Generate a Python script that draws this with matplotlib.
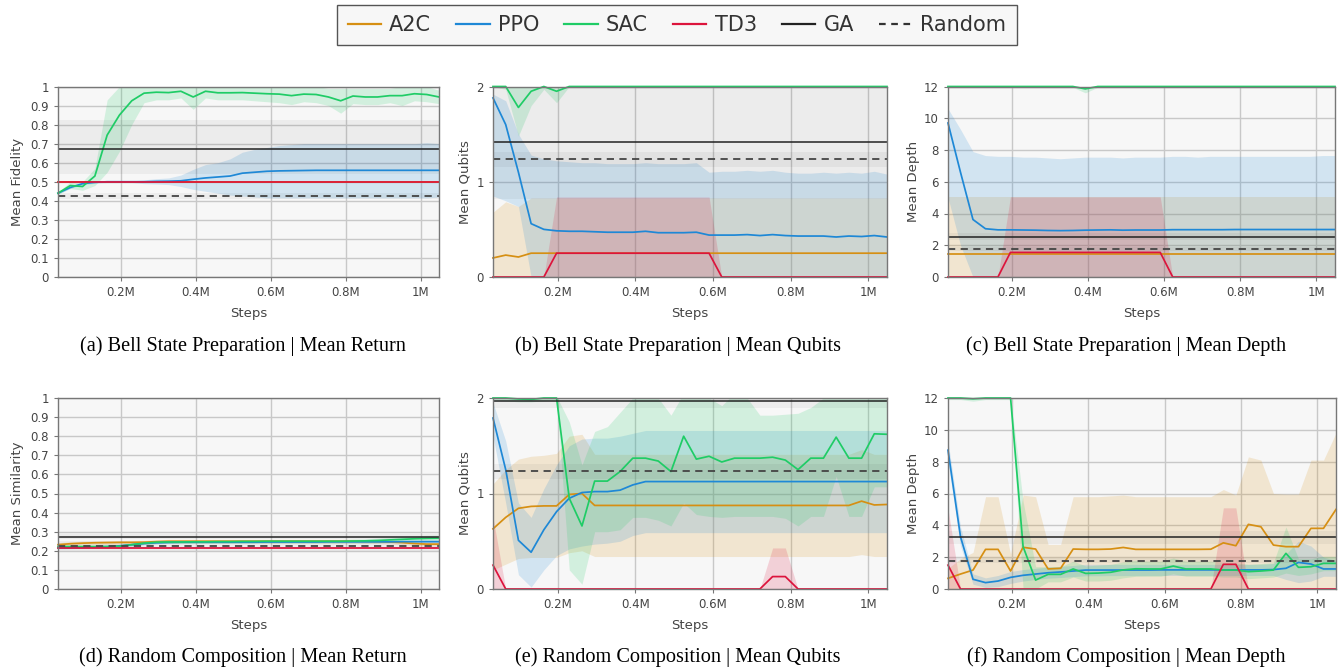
import numpy as np
import matplotlib
matplotlib.use('Agg')
import matplotlib.pyplot as plt
from matplotlib.lines import Line2D

# evaluation steps (32 checkpoints, 2^15 apart)
steps = np.arange(1, 33) * 32768

# ---------------- (a) Bell State Preparation | Mean Return ----------------
a_a2c = [0.50, 0.50, 0.50, 0.50, 0.50, 0.50, 0.50, 0.50, 0.50, 0.50, 0.50, 0.50, 0.50, 0.50, 0.50, 0.50,
         0.50, 0.50, 0.50, 0.50, 0.50, 0.50, 0.50, 0.50, 0.50, 0.50, 0.50, 0.50, 0.50, 0.50, 0.50, 0.50]
a_a2c_lo = a_a2c
a_a2c_hi = a_a2c
a_ppo = [0.44, 0.47, 0.49, 0.497, 0.50, 0.50, 0.50, 0.50, 0.502, 0.503, 0.505, 0.513, 0.52, 0.525, 0.53, 0.545,
         0.55, 0.555, 0.557, 0.558, 0.559, 0.56, 0.56, 0.56, 0.56, 0.56, 0.56, 0.56, 0.56, 0.56, 0.56, 0.56]
a_ppo_lo = [0.435, 0.465, 0.485, 0.492, 0.495, 0.495, 0.495, 0.49, 0.488, 0.485, 0.475, 0.46, 0.45, 0.44, 0.43, 0.425,
            0.42, 0.415, 0.415, 0.415, 0.415, 0.415, 0.415, 0.415, 0.415, 0.415, 0.415, 0.415, 0.415, 0.415, 0.415, 0.42]
a_ppo_hi = [0.445, 0.475, 0.495, 0.502, 0.505, 0.505, 0.505, 0.51, 0.516, 0.52, 0.535, 0.565, 0.59, 0.60, 0.62, 0.655,
            0.67, 0.68, 0.69, 0.695, 0.70, 0.70, 0.70, 0.70, 0.70, 0.70, 0.70, 0.70, 0.70, 0.70, 0.705, 0.70]
a_sac = [0.44, 0.48, 0.475, 0.53, 0.745, 0.85, 0.925, 0.965, 0.97, 0.968, 0.975, 0.945, 0.975, 0.967, 0.967, 0.968,
         0.965, 0.962, 0.96, 0.952, 0.96, 0.958, 0.945, 0.925, 0.95, 0.945, 0.945, 0.952, 0.952, 0.962, 0.958, 0.945]
a_sac_lo = [0.435, 0.465, 0.455, 0.48, 0.55, 0.66, 0.80, 0.915, 0.93, 0.93, 0.94, 0.88, 0.94, 0.93, 0.93, 0.93,
            0.925, 0.92, 0.915, 0.905, 0.92, 0.915, 0.90, 0.86, 0.91, 0.905, 0.905, 0.915, 0.90, 0.925, 0.92, 0.91]
a_sac_hi = [0.445, 0.50, 0.50, 0.57, 0.93, 1.0, 1.0, 1.0, 1.0, 1.0, 1.0, 1.0, 1.0, 1.0, 1.0, 1.0,
            1.0, 1.0, 1.0, 1.0, 1.0, 1.0, 0.99, 0.99, 0.99, 0.99, 0.99, 0.99, 1.0, 1.0, 1.0, 0.98]
a_td3 = a_a2c
a_td3_lo = a_a2c
a_td3_hi = a_a2c
a_ga = [0.672, 0.54, 0.825]       # value, low, high
a_rand = [0.425, 0.407, 0.443]

# ---------------- (b) Bell State Preparation | Mean Qubits ----------------
b_a2c = [0.20, 0.23, 0.21, 0.25, 0.25, 0.25, 0.25, 0.25, 0.25, 0.25, 0.25, 0.25, 0.25, 0.25, 0.25, 0.25,
         0.25, 0.25, 0.25, 0.25, 0.25, 0.25, 0.25, 0.25, 0.25, 0.25, 0.25, 0.25, 0.25, 0.25, 0.25, 0.25]
b_a2c_lo = [0, 0, 0, 0, 0, 0, 0, 0, 0, 0, 0, 0, 0, 0, 0, 0,
            0, 0, 0, 0, 0, 0, 0, 0, 0, 0, 0, 0, 0, 0, 0, 0]
b_a2c_hi = [0.68, 0.79, 0.74, 0.83, 0.83, 0.83, 0.83, 0.83, 0.83, 0.83, 0.83, 0.83, 0.83, 0.83, 0.83, 0.83,
            0.83, 0.83, 0.83, 0.83, 0.83, 0.83, 0.83, 0.83, 0.83, 0.83, 0.83, 0.83, 0.83, 0.83, 0.83, 0.83]
b_ppo = [1.88, 1.60, 1.10, 0.56, 0.50, 0.485, 0.48, 0.48, 0.475, 0.47, 0.47, 0.47, 0.48, 0.465, 0.465, 0.465,
         0.47, 0.44, 0.44, 0.44, 0.445, 0.435, 0.445, 0.435, 0.43, 0.43, 0.43, 0.42, 0.43, 0.425, 0.435, 0.42]
b_ppo_lo = [0.85, 0.80, 0.74, 0, 0, 0, 0, 0, 0, 0, 0, 0, 0, 0, 0, 0,
            0, 0, 0, 0, 0, 0, 0, 0, 0, 0, 0, 0, 0, 0, 0, 0]
b_ppo_hi = [1.92, 1.85, 1.50, 1.28, 1.24, 1.22, 1.21, 1.20, 1.20, 1.19, 1.19, 1.19, 1.20, 1.19, 1.19, 1.19,
            1.20, 1.10, 1.11, 1.11, 1.12, 1.11, 1.12, 1.10, 1.09, 1.09, 1.10, 1.09, 1.10, 1.09, 1.11, 1.08]
b_sac = [2.0, 2.0, 1.78, 1.95, 2.0, 1.95, 2.0, 2.0, 2.0, 2.0, 2.0, 2.0, 2.0, 2.0, 2.0, 2.0,
         2.0, 2.0, 2.0, 2.0, 2.0, 2.0, 2.0, 2.0, 2.0, 2.0, 2.0, 2.0, 2.0, 2.0, 2.0, 2.0]
b_sac_lo = [2.0, 1.97, 1.48, 1.80, 1.97, 1.83, 2.0, 2.0, 2.0, 2.0, 2.0, 2.0, 2.0, 2.0, 2.0, 2.0,
            2.0, 2.0, 2.0, 2.0, 2.0, 2.0, 2.0, 2.0, 2.0, 2.0, 2.0, 2.0, 2.0, 2.0, 2.0, 2.0]
b_sac_hi = [2.0, 2.0, 2.0, 2.0, 2.0, 2.0, 2.0, 2.0, 2.0, 2.0, 2.0, 2.0, 2.0, 2.0, 2.0, 2.0,
            2.0, 2.0, 2.0, 2.0, 2.0, 2.0, 2.0, 2.0, 2.0, 2.0, 2.0, 2.0, 2.0, 2.0, 2.0, 2.0]
b_td3 = [0, 0, 0, 0, 0, 0.25, 0.25, 0.25, 0.25, 0.25, 0.25, 0.25, 0.25, 0.25, 0.25, 0.25,
         0.25, 0.25, 0, 0, 0, 0, 0, 0, 0, 0, 0, 0, 0, 0, 0, 0]
b_td3_lo = b_a2c_lo
b_td3_hi = [0, 0, 0, 0, 0, 0.84, 0.84, 0.84, 0.84, 0.84, 0.84, 0.84, 0.84, 0.84, 0.84, 0.84,
            0.84, 0.84, 0, 0, 0, 0, 0, 0, 0, 0, 0, 0, 0, 0, 0, 0]
b_ga = [1.42, 0.82, 2.02]
b_rand = [1.235, 1.155, 1.315]

# ---------------- (c) Bell State Preparation | Mean Depth ----------------
c_a2c = [1.48, 1.48, 1.48, 1.48, 1.48, 1.48, 1.48, 1.48, 1.48, 1.48, 1.48, 1.48, 1.48, 1.48, 1.48, 1.48,
         1.48, 1.48, 1.48, 1.48, 1.48, 1.48, 1.48, 1.48, 1.48, 1.48, 1.48, 1.48, 1.48, 1.48, 1.48, 1.48]
c_a2c_lo = b_a2c_lo
c_a2c_hi = [5.05, 5.05, 5.05, 5.05, 5.05, 5.05, 5.05, 5.05, 5.05, 5.05, 5.05, 5.05, 5.05, 5.05, 5.05, 5.05,
            5.05, 5.05, 5.05, 5.05, 5.05, 5.05, 5.05, 5.05, 5.05, 5.05, 5.05, 5.05, 5.05, 5.05, 5.05, 5.05]
c_ppo = [9.70, 6.60, 3.62, 3.04, 2.97, 2.97, 2.96, 2.95, 2.93, 2.92, 2.93, 2.95, 2.96, 2.97, 2.95, 2.96,
         2.96, 2.96, 2.98, 2.98, 2.98, 2.98, 2.98, 2.99, 2.99, 2.99, 2.99, 2.99, 2.99, 2.99, 2.99, 2.99]
c_ppo_lo = [5.0, 2.0, 0, 0, 0, 0, 0, 0, 0, 0, 0, 0, 0, 0, 0, 0,
            0, 0, 0, 0, 0, 0, 0, 0, 0, 0, 0, 0, 0, 0, 0, 0]
c_ppo_hi = [10.6, 9.3, 7.9, 7.65, 7.6, 7.6, 7.55, 7.55, 7.5, 7.45, 7.5, 7.55, 7.55, 7.55, 7.5, 7.55,
            7.55, 7.55, 7.6, 7.6, 7.55, 7.6, 7.6, 7.6, 7.6, 7.6, 7.6, 7.6, 7.6, 7.6, 7.65, 7.65]
c_sac = [12, 12, 12, 12, 12, 12, 12, 12, 12, 12, 12, 11.85, 12, 12, 12, 12,
         12, 12, 12, 12, 12, 12, 12, 12, 12, 12, 12, 12, 12, 12, 12, 12]
c_sac_lo = [12, 12, 12, 12, 12, 12, 12, 12, 12, 12, 11.95, 11.6, 11.95, 12, 12, 12,
            12, 12, 12, 12, 12, 12, 12, 12, 12, 12, 12, 12, 12, 12, 12, 12]
c_sac_hi = [12.1, 12.1, 12.1, 12.1, 12.1, 12.1, 12.1, 12.1, 12.1, 12.1, 12.1, 12.1, 12.1, 12.1, 12.1, 12.1,
            12.1, 12.1, 12.1, 12.1, 12.1, 12.1, 12.1, 12.1, 12.1, 12.1, 12.1, 12.1, 12.1, 12.1, 12.1, 12.1]
c_td3 = [0, 0, 0, 0, 0, 1.55, 1.55, 1.55, 1.55, 1.55, 1.55, 1.55, 1.55, 1.55, 1.55, 1.55,
         1.55, 1.55, 0, 0, 0, 0, 0, 0, 0, 0, 0, 0, 0, 0, 0, 0]
c_td3_lo = b_a2c_lo
c_td3_hi = [0, 0, 0, 0, 0, 5.05, 5.05, 5.05, 5.05, 5.05, 5.05, 5.05, 5.05, 5.05, 5.05, 5.05,
            5.05, 5.05, 0, 0, 0, 0, 0, 0, 0, 0, 0, 0, 0, 0, 0, 0]
c_ga = [2.55, 2.35, 2.75]
c_rand = [1.76, 1.66, 1.86]

# ---------------- (d) Random Composition | Mean Return ----------------
d_a2c = [0.232, 0.237, 0.240, 0.242, 0.243, 0.244, 0.244, 0.245, 0.248, 0.250, 0.250, 0.250, 0.250, 0.250, 0.250, 0.250,
         0.250, 0.250, 0.250, 0.250, 0.250, 0.250, 0.250, 0.250, 0.250, 0.249, 0.248, 0.246, 0.243, 0.238, 0.235, 0.235]
d_a2c_lo = [0.222, 0.227, 0.230, 0.232, 0.233, 0.234, 0.234, 0.235, 0.238, 0.240, 0.240, 0.240, 0.240, 0.240, 0.240, 0.240,
            0.240, 0.240, 0.240, 0.240, 0.240, 0.240, 0.240, 0.240, 0.240, 0.239, 0.238, 0.236, 0.233, 0.228, 0.225, 0.225]
d_a2c_hi = [0.242, 0.247, 0.250, 0.252, 0.253, 0.254, 0.254, 0.255, 0.258, 0.260, 0.260, 0.260, 0.260, 0.260, 0.260, 0.260,
            0.260, 0.260, 0.260, 0.260, 0.260, 0.260, 0.260, 0.260, 0.260, 0.259, 0.258, 0.256, 0.253, 0.248, 0.245, 0.245]
d_ppo = [0.215, 0.216, 0.218, 0.220, 0.222, 0.226, 0.232, 0.238, 0.242, 0.244, 0.245, 0.245, 0.245, 0.245, 0.245, 0.245,
         0.245, 0.246, 0.246, 0.246, 0.246, 0.246, 0.247, 0.247, 0.247, 0.247, 0.247, 0.247, 0.248, 0.248, 0.248, 0.248]
d_ppo_lo = [0.210, 0.211, 0.213, 0.215, 0.217, 0.221, 0.227, 0.233, 0.237, 0.239, 0.240, 0.240, 0.240, 0.240, 0.240, 0.240,
            0.240, 0.241, 0.241, 0.241, 0.241, 0.241, 0.242, 0.242, 0.242, 0.242, 0.242, 0.242, 0.243, 0.243, 0.243, 0.243]
d_ppo_hi = [0.220, 0.221, 0.223, 0.225, 0.227, 0.231, 0.237, 0.243, 0.247, 0.249, 0.250, 0.250, 0.250, 0.250, 0.250, 0.250,
            0.250, 0.251, 0.251, 0.251, 0.251, 0.251, 0.252, 0.252, 0.252, 0.252, 0.252, 0.252, 0.253, 0.253, 0.253, 0.253]
d_sac = [0.222, 0.222, 0.222, 0.222, 0.222, 0.224, 0.232, 0.240, 0.245, 0.246, 0.246, 0.247, 0.247, 0.248, 0.248, 0.249,
         0.249, 0.250, 0.250, 0.250, 0.250, 0.250, 0.250, 0.250, 0.251, 0.252, 0.254, 0.257, 0.260, 0.263, 0.265, 0.266]
d_sac_lo = [0.214, 0.214, 0.214, 0.214, 0.214, 0.216, 0.224, 0.232, 0.237, 0.238, 0.238, 0.239, 0.239, 0.240, 0.240, 0.241,
            0.241, 0.241, 0.241, 0.241, 0.241, 0.241, 0.241, 0.241, 0.241, 0.241, 0.242, 0.244, 0.246, 0.248, 0.249, 0.250]
d_sac_hi = [0.230, 0.230, 0.230, 0.230, 0.230, 0.232, 0.240, 0.248, 0.253, 0.254, 0.254, 0.255, 0.255, 0.256, 0.256, 0.257,
            0.257, 0.259, 0.259, 0.259, 0.259, 0.259, 0.259, 0.259, 0.261, 0.263, 0.266, 0.270, 0.274, 0.278, 0.281, 0.282]
d_td3 = [0.213, 0.213, 0.213, 0.213, 0.213, 0.213, 0.213, 0.213, 0.213, 0.213, 0.213, 0.213, 0.213, 0.213, 0.213, 0.213,
         0.213, 0.213, 0.213, 0.213, 0.213, 0.213, 0.213, 0.213, 0.213, 0.213, 0.213, 0.213, 0.213, 0.213, 0.213, 0.213]
d_td3_lo = [0.207, 0.207, 0.207, 0.207, 0.207, 0.207, 0.207, 0.207, 0.207, 0.207, 0.207, 0.207, 0.207, 0.207, 0.207, 0.207,
            0.207, 0.207, 0.207, 0.207, 0.207, 0.207, 0.207, 0.207, 0.207, 0.207, 0.207, 0.207, 0.207, 0.207, 0.207, 0.207]
d_td3_hi = [0.219, 0.219, 0.219, 0.219, 0.219, 0.219, 0.219, 0.219, 0.219, 0.219, 0.219, 0.219, 0.219, 0.219, 0.219, 0.219,
            0.219, 0.219, 0.219, 0.219, 0.219, 0.219, 0.219, 0.219, 0.219, 0.219, 0.219, 0.219, 0.219, 0.219, 0.219, 0.219]
d_ga = [0.274, 0.262, 0.290]
d_rand = [0.224, 0.198, 0.250]

# ---------------- (e) Random Composition | Mean Qubits ----------------
e_a2c = [0.63, 0.75, 0.845, 0.865, 0.87, 0.87, 0.99, 1.0, 0.875, 0.875, 0.875, 0.875, 0.875, 0.875, 0.875, 0.875,
         0.875, 0.875, 0.875, 0.875, 0.875, 0.875, 0.875, 0.875, 0.875, 0.875, 0.875, 0.875, 0.875, 0.92, 0.88, 0.885]
e_a2c_lo = [0.20, 0.26, 0.32, 0.33, 0.33, 0.33, 0.38, 0.40, 0.34, 0.34, 0.34, 0.34, 0.34, 0.34, 0.34, 0.34,
            0.34, 0.34, 0.34, 0.34, 0.34, 0.34, 0.34, 0.34, 0.34, 0.34, 0.34, 0.34, 0.34, 0.36, 0.34, 0.34]
e_a2c_hi = [1.10, 1.25, 1.36, 1.39, 1.40, 1.42, 1.60, 1.62, 1.41, 1.41, 1.41, 1.41, 1.41, 1.41, 1.41, 1.41,
            1.41, 1.41, 1.41, 1.41, 1.41, 1.41, 1.41, 1.41, 1.41, 1.41, 1.41, 1.41, 1.41, 1.46, 1.41, 1.41]
e_ppo = [1.79, 1.25, 0.51, 0.385, 0.62, 0.81, 0.95, 1.01, 1.02, 1.02, 1.035, 1.09, 1.125, 1.125, 1.125, 1.125,
         1.125, 1.125, 1.125, 1.125, 1.125, 1.125, 1.125, 1.125, 1.125, 1.125, 1.125, 1.125, 1.125, 1.125, 1.125, 1.125]
e_ppo_lo = [1.60, 0.90, 0.15, 0.02, 0.20, 0.35, 0.42, 0.45, 0.47, 0.48, 0.50, 0.56, 0.59, 0.59, 0.59, 0.59,
            0.59, 0.59, 0.59, 0.59, 0.59, 0.59, 0.59, 0.59, 0.59, 0.59, 0.59, 0.59, 0.59, 0.59, 0.59, 0.59]
e_ppo_hi = [1.95, 1.55, 0.90, 0.75, 1.05, 1.30, 1.50, 1.57, 1.58, 1.58, 1.60, 1.63, 1.66, 1.66, 1.66, 1.66,
            1.66, 1.66, 1.66, 1.66, 1.66, 1.66, 1.66, 1.66, 1.66, 1.66, 1.66, 1.66, 1.66, 1.66, 1.66, 1.66]
e_sac = [2.0, 2.0, 1.99, 1.985, 2.0, 2.0, 0.95, 0.66, 1.13, 1.13, 1.23, 1.37, 1.37, 1.34, 1.23, 1.60,
         1.36, 1.39, 1.33, 1.37, 1.37, 1.37, 1.38, 1.35, 1.25, 1.37, 1.37, 1.59, 1.37, 1.37, 1.625, 1.62]
e_sac_lo = [1.98, 1.97, 1.96, 1.96, 1.97, 1.98, 0.20, 0.05, 0.60, 0.60, 0.62, 0.75, 0.75, 0.72, 0.66, 0.90,
            0.78, 0.76, 0.75, 0.76, 0.76, 0.76, 0.76, 0.74, 0.66, 0.76, 0.76, 1.18, 0.76, 0.76, 1.07, 1.07]
e_sac_hi = [2.02, 2.02, 2.02, 2.02, 2.02, 2.02, 1.75, 1.30, 1.65, 1.70, 1.85, 2.00, 2.05, 2.00, 1.82, 2.05,
            2.05, 2.00, 1.92, 2.05, 2.00, 1.82, 1.82, 1.83, 1.84, 1.90, 2.00, 2.05, 2.05, 2.05, 2.10, 2.10]
e_td3 = [0.25, 0, 0, 0, 0, 0, 0, 0, 0, 0, 0, 0, 0, 0, 0, 0,
         0, 0, 0, 0, 0, 0, 0.13, 0.13, 0, 0, 0, 0, 0, 0, 0, 0]
e_td3_lo = b_a2c_lo
e_td3_hi = [0.75, 0, 0, 0, 0, 0, 0, 0, 0, 0, 0, 0, 0, 0, 0, 0,
            0, 0, 0, 0, 0, 0, 0.43, 0.43, 0, 0, 0, 0, 0, 0, 0, 0]
e_ga = [1.965, 1.90, 2.03]
e_rand = [1.233, 1.15, 1.31]

# ---------------- (f) Random Composition | Mean Depth ----------------
f_a2c = [0.67, 0.94, 1.19, 2.49, 2.49, 1.13, 2.62, 2.51, 1.26, 1.30, 2.51, 2.49, 2.49, 2.51, 2.61, 2.49,
         2.49, 2.49, 2.49, 2.49, 2.49, 2.50, 2.90, 2.72, 4.06, 3.91, 2.76, 2.66, 2.66, 3.81, 3.81, 5.00]
f_a2c_lo = b_a2c_lo
f_a2c_hi = [1.3, 1.9, 2.3, 5.8, 5.8, 2.2, 5.9, 5.8, 2.8, 2.8, 5.8, 5.8, 5.8, 5.85, 5.9, 5.8,
            5.8, 5.8, 5.8, 5.8, 5.8, 5.8, 6.25, 5.9, 8.3, 8.1, 6.0, 5.96, 5.96, 8.1, 8.1, 9.8]
f_ppo = [8.72, 3.28, 0.61, 0.40, 0.50, 0.73, 0.86, 0.94, 1.02, 1.07, 1.13, 1.19, 1.19, 1.19, 1.19, 1.19,
         1.19, 1.20, 1.20, 1.20, 1.20, 1.20, 1.20, 1.20, 1.20, 1.20, 1.22, 1.30, 1.67, 1.57, 1.26, 1.26]
f_ppo_lo = [8.0, 2.7, 0.3, 0.1, 0.15, 0.35, 0.5, 0.6, 0.68, 0.72, 0.78, 0.83, 0.83, 0.84, 0.84, 0.84,
            0.85, 0.85, 0.85, 0.85, 0.85, 0.85, 0.85, 0.85, 0.85, 0.85, 0.85, 0.6, 0.4, 0.5, 0.8, 0.8]
f_ppo_hi = [9.3, 3.9, 0.95, 0.7, 0.85, 1.1, 1.22, 1.3, 1.38, 1.42, 1.48, 1.55, 1.55, 1.55, 1.55, 1.55,
            1.55, 1.55, 1.55, 1.55, 1.55, 1.55, 1.55, 1.55, 1.55, 1.55, 1.6, 2.2, 3.0, 2.7, 2.0, 1.8]
f_sac = [12, 12, 11.95, 12, 12, 12, 2.66, 0.56, 0.92, 0.92, 1.26, 0.98, 1.0, 1.05, 1.2, 1.27,
         1.26, 1.26, 1.44, 1.26, 1.26, 1.26, 1.19, 1.19, 1.09, 1.13, 1.19, 2.24, 1.36, 1.4, 1.61, 1.61]
f_sac_lo = [11.9, 11.9, 11.8, 11.9, 11.9, 11.9, 0.0, 0.0, 0.45, 0.45, 0.75, 0.5, 0.5, 0.55, 0.7, 0.8,
            0.8, 0.8, 0.95, 0.8, 0.8, 0.8, 0.75, 0.75, 0.65, 0.7, 0.75, 1.0, 0.85, 0.95, 1.15, 1.15]
f_sac_hi = [12.1, 12.1, 12.05, 12.1, 12.1, 12.1, 5.5, 1.4, 1.4, 1.4, 1.75, 1.45, 1.5, 1.55, 1.7, 1.8,
            1.75, 1.75, 1.95, 1.75, 1.75, 1.75, 1.65, 1.65, 1.55, 1.6, 1.65, 3.9, 1.9, 1.9, 2.05, 2.05]
f_td3 = [1.5, 0, 0, 0, 0, 0, 0, 0, 0, 0, 0, 0, 0, 0, 0, 0,
         0, 0, 0, 0, 0, 0, 1.55, 1.55, 0, 0, 0, 0, 0, 0, 0, 0]
f_td3_lo = b_a2c_lo
f_td3_hi = [5.05, 0, 0, 0, 0, 0, 0, 0, 0, 0, 0, 0, 0, 0, 0, 0,
            0, 0, 0, 0, 0, 0, 5.1, 5.1, 0, 0, 0, 0, 0, 0, 0, 0]
f_ga = [3.24, 2.82, 3.62]
f_rand = [1.78, 1.63, 1.93]

names = ['A2C', 'PPO', 'SAC', 'TD3']
colors = {'A2C': '#d68f13', 'PPO': '#1e88d6', 'SAC': '#1fcc66', 'TD3': '#dc143c'}

captions = ['(a) Bell State Preparation | Mean Return',
            '(b) Bell State Preparation | Mean Qubits',
            '(c) Bell State Preparation | Mean Depth',
            '(d) Random Composition | Mean Return',
            '(e) Random Composition | Mean Qubits',
            '(f) Random Composition | Mean Depth']
ylabels = ['Mean Fidelity', 'Mean Qubits', 'Mean Depth',
           'Mean Similarity', 'Mean Qubits', 'Mean Depth']

panels = [
    ([(a_a2c, a_a2c_lo, a_a2c_hi), (a_ppo, a_ppo_lo, a_ppo_hi), (a_sac, a_sac_lo, a_sac_hi), (a_td3, a_td3_lo, a_td3_hi)], a_ga, a_rand),
    ([(b_a2c, b_a2c_lo, b_a2c_hi), (b_ppo, b_ppo_lo, b_ppo_hi), (b_sac, b_sac_lo, b_sac_hi), (b_td3, b_td3_lo, b_td3_hi)], b_ga, b_rand),
    ([(c_a2c, c_a2c_lo, c_a2c_hi), (c_ppo, c_ppo_lo, c_ppo_hi), (c_sac, c_sac_lo, c_sac_hi), (c_td3, c_td3_lo, c_td3_hi)], c_ga, c_rand),
    ([(d_a2c, d_a2c_lo, d_a2c_hi), (d_ppo, d_ppo_lo, d_ppo_hi), (d_sac, d_sac_lo, d_sac_hi), (d_td3, d_td3_lo, d_td3_hi)], d_ga, d_rand),
    ([(e_a2c, e_a2c_lo, e_a2c_hi), (e_ppo, e_ppo_lo, e_ppo_hi), (e_sac, e_sac_lo, e_sac_hi), (e_td3, e_td3_lo, e_td3_hi)], e_ga, e_rand),
    ([(f_a2c, f_a2c_lo, f_a2c_hi), (f_ppo, f_ppo_lo, f_ppo_hi), (f_sac, f_sac_lo, f_sac_hi), (f_td3, f_td3_lo, f_td3_hi)], f_ga, f_rand),
]

# y-axis setup per metric column
frac_ticks = np.round(np.arange(0, 1.01, 0.1), 1)
frac_labels = ['0'] + [f'{t:g}' for t in frac_ticks[1:-1]] + ['1']
yticks = [frac_ticks, [0, 1, 2], list(range(0, 13, 2))]
ylabs = [frac_labels, ['0', '1', '2'], [str(t) for t in range(0, 13, 2)]]
ylims = [(0, 1), (0, 2), (0, 12)]

W, H = 1342, 672
fig = plt.figure(figsize=(W / 100, H / 100), dpi=100)

# axes boxes in pixels: left, top, right, bottom
boxes = [(58, 86.5, 439, 277), (493, 86.5, 887, 277), (948, 86.5, 1335, 277),
         (58, 398, 439, 589), (493, 398, 887, 589), (948, 398, 1336, 589)]
cap_x = [243, 678, 1126]
ylab_x = [-0.09, -0.055, -0.073]

for i, (series, ga, rnd) in enumerate(panels):
    l, t, r, b = boxes[i]
    ax = fig.add_axes([l / W, 1 - b / H, (r - l) / W, (b - t) / H])
    col = i % 3
    ax.set_facecolor('#f7f7f7')

    # bands
    for name, (m, lo, hi) in zip(names, series):
        ax.fill_between(steps, lo, hi, color=colors[name], alpha=0.17, lw=0, zorder=1)
    ax.axhspan(ga[1], ga[2], color='black', alpha=0.045, lw=0, zorder=1)
    ax.axhspan(rnd[1], rnd[2], color='black', alpha=0.045, lw=0, zorder=1)

    # mean lines (not clipped so the ones sitting on the limits stay visible)
    for name, (m, lo, hi) in zip(names, series):
        ax.plot(steps, m, color=colors[name], lw=1.25, zorder=3, clip_on=False)
    ax.axhline(ga[0], color='#222222', lw=1.1, zorder=4)
    ax.axhline(rnd[0], color='#444444', lw=1.3, ls=(0, (4, 3)), zorder=4)

    ax.set_xlim(steps[0], steps[-1])
    ax.set_ylim(*ylims[col])
    ax.set_xticks([200000, 400000, 600000, 800000, 1000000])
    ax.set_xticklabels(['0.2M', '0.4M', '0.6M', '0.8M', '1M'])
    ax.set_yticks(yticks[col])
    ax.set_yticklabels(ylabs[col])
    ax.grid(True, color='#c8c8c8', lw=1.0, zorder=0)
    ax.set_axisbelow(True)
    ax.tick_params(labelsize=8.5, labelcolor='#444444', color='#777777', length=3, width=0.8)
    for s in ax.spines.values():
        s.set_color('#777777')
        s.set_linewidth(1.0)
        s.set_zorder(5)
    ax.set_xlabel('Steps', fontsize=9.5, color='#444444')
    ax.set_ylabel(ylabels[i], fontsize=9.5, color='#444444')
    ax.xaxis.set_label_coords(0.5, -0.155)
    ax.yaxis.set_label_coords(ylab_x[col], 0.5)

    cy = 346 if i < 3 else 657
    fig.text(cap_x[col] / W, 1 - cy / H, captions[i], ha='center', va='center',
             family='Liberation Serif', fontsize=14.6)

handles = [Line2D([], [], color=colors[n], lw=1.6) for n in names]
handles += [Line2D([], [], color='#222222', lw=1.6),
            Line2D([], [], color='#333333', lw=1.6, ls=(0, (3, 2.5)))]
fig.legend(handles, names + ['GA', 'Random'], loc='center', bbox_to_anchor=(677 / W, 1 - 25 / H),
           ncol=6, fontsize=15, frameon=True, fancybox=False, edgecolor='#555555',
           facecolor='#f7f7f7', framealpha=1, handlelength=1.6, handletextpad=0.4,
           columnspacing=1.2, borderpad=0.5, labelcolor='#333333')

fig.savefig('out.png', dpi=100)
